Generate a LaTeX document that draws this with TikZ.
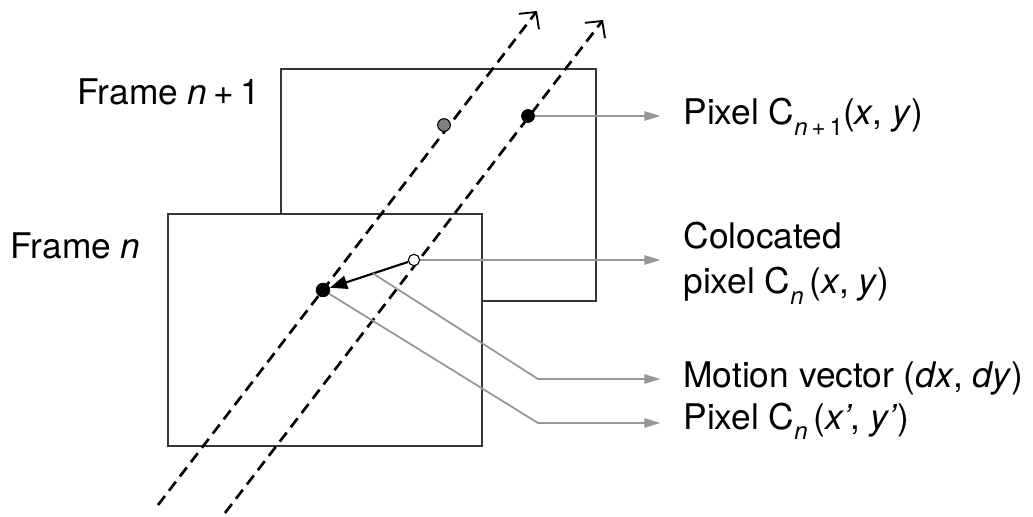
\documentclass[tikz,border=0pt]{standalone}
\usepackage{fontspec}
\setmainfont{TeX Gyre Heros}
\usetikzlibrary{arrows.meta,calc}

\definecolor{framegrey}{RGB}{55,55,55}
\definecolor{leadgrey}{RGB}{150,150,150}

\newcommand{\lowidx}[1]{\raisebox{-0.3em}{\fontsize{18}{18}\selectfont #1}}

\tikzset{every picture/.style={line width=0.75pt}}
\tikzset{
  framebox/.style={draw=framegrey, line width=1.5pt},
  trackline/.style={line width=2pt, dash pattern=on 8.5pt off 5pt, -{Straight Barb[length=9pt,width=19pt,line width=1.4pt]}},
  leadarrow/.style={draw=leadgrey, line width=1.3pt, -{Triangle[length=12pt,width=7pt]}, shorten >=17pt},
  pixdot/.style={circle, draw=black, line width=0.8pt, inner sep=0pt, minimum size=9.5pt},
  lbl/.style={inner sep=0pt, font=\fontsize{26.5}{34}\selectfont},
}

\begin{document}
\begin{tikzpicture}[x=0.75pt,y=0.75pt,yscale=-1,xscale=1]
\useasboundingbox (0,0) rectangle (1033,517);

%Shape: Rectangle [frame n+1]
\draw[framebox] (281,69) rectangle (596,301);
%Shape: Rectangle [frame n]
\draw[framebox, fill=white] (168,214) rectangle (482,446);

%Straight Lines [pixel tracks]
\coordinate (trackAfrom) at (158,505);
\coordinate (trackAto) at (537,11);
\coordinate (trackBfrom) at (225,513);
\coordinate (trackBto) at (603,20);
\draw[trackline] (trackAfrom) -- (trackAto);
\draw[trackline] (trackBfrom) -- (trackBto);

%Shape: Circle [pixels]
\node[pixdot, fill=gray] (pgrey) at (444,125) {};
\node[pixdot, fill=black] (pnext) at (528,116) {};
\node[pixdot, fill=white, minimum size=8.5pt] (pcol) at (414,260) {};
\node[pixdot, fill=black, minimum size=10pt] (pcur) at (323,290) {};

%Straight Lines [motion vector]
\draw[line width=1.6pt, -{Triangle[length=13pt,width=10pt]}] (pcol) -- (pcur);

% Text Node
\node[lbl, anchor=base west] (lfn1) at (77,105) {Frame \textit{n}\,+\,1};
% Text Node
\node[lbl, anchor=base west] (lfn) at (10,258) {Frame \textit{n}};
% Text Node
\node[lbl, anchor=base west] (lnext) at (683,125) {Pixel C\lowidx{\textit{n}\,+\,1}(\textit{x}, \textit{y})};
% Text Node
\node[lbl, anchor=west, align=left] (lcol) at (683,263) {Colocated\\pixel C\lowidx{\textit{n}}\,(\textit{x}, \textit{y})};
% Text Node
\node[lbl, anchor=base west] (lmv) at (683,387) {Motion vector (\textit{dx}, \textit{dy})};
% Text Node
\node[lbl, anchor=base west] (lpx) at (683,429) {Pixel C\lowidx{\textit{n}}\,(\textit{x’}, \textit{y’})};

%Straight Lines [leaders]
\coordinate (mvstart) at ($(pcol)!0.45!(pcur)$);
\coordinate (mvbend) at (538,379);
\coordinate (pxbend) at (538,423);
\draw[leadarrow] (pnext) -- (pnext -| lnext.west);
\draw[leadarrow] (pcol) -- (pcol -| lcol.west);
\draw[leadarrow] (mvstart) -- (mvbend) -- (mvbend -| lmv.west);
\draw[leadarrow] (pcur) -- (pxbend) -- (pxbend -| lpx.west);

\end{tikzpicture}
\end{document}
